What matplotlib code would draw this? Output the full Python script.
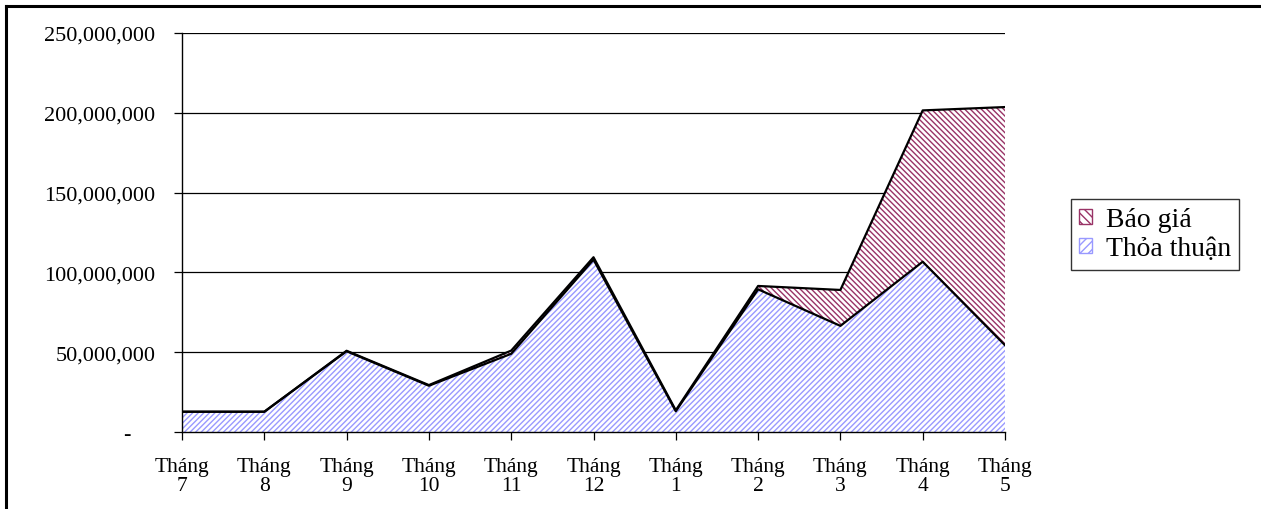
import numpy as np
import matplotlib.pyplot as plt
import matplotlib as mpl
from matplotlib.lines import Line2D
from matplotlib.ticker import FuncFormatter

plt.rcParams['font.family'] = ['Liberation Serif', 'DejaVu Serif']
mpl.rcParams['hatch.linewidth'] = 1.0

months = ['Tháng\n7', 'Tháng\n8', 'Tháng\n9', 'Tháng\n10', 'Tháng\n11', 'Tháng\n12',
          'Tháng\n1', 'Tháng\n2', 'Tháng\n3', 'Tháng\n4', 'Tháng\n5']
thoa_thuan = [12.7e6, 12.7e6, 50.6e6, 29.0e6, 49.0e6, 108.0e6,
              13.0e6, 89.4e6, 66.5e6, 106.7e6, 54.4e6]
bao_gia = [0.0, 0.0, 0.3e6, 0.4e6, 2.0e6, 1.5e6,
           0.6e6, 2.1e6, 22.5e6, 94.8e6, 149.2e6]

x = np.arange(len(months))
total = np.array(thoa_thuan) + np.array(bao_gia)

fig = plt.figure(figsize=(12.61, 5.10), dpi=100)
ax = fig.add_axes([182 / 1261, 1 - 433 / 510, 823 / 1261, 399 / 510])

blue = '#9999ff'
red = '#993366'

ax.fill_between(x, 0, thoa_thuan, facecolor='white', edgecolor=blue,
                hatch='//////', linewidth=0, zorder=2)
ax.fill_between(x, thoa_thuan, total, facecolor='white', edgecolor=red,
                hatch='\\\\\\\\\\\\', linewidth=0, zorder=2)
ax.plot(x, thoa_thuan, color='black', lw=1.6, zorder=3)
ax.plot(x, total, color='black', lw=1.6, zorder=3)

ax.set_xlim(0, len(months) - 1)
ax.set_ylim(0, 250e6)
ax.set_yticks(np.arange(0, 250e6 + 1, 50e6))
ax.yaxis.set_major_formatter(FuncFormatter(lambda v, p: '-' if v == 0 else f'{v:,.0f}'))
ax.grid(axis='y', color='black', lw=0.9, zorder=1)
ax.set_xticks(x)
ax.set_xticklabels(months, fontsize=15.5, linespacing=1.0)
ax.tick_params(axis='y', labelsize=16, length=6, width=0.9, direction='out', pad=13)
ax.tick_params(axis='x', length=6, width=0.9, direction='out', pad=12)
for s in ['left', 'bottom']:
    ax.spines[s].set_linewidth(1.0)
for s in ['top', 'right']:
    ax.spines[s].set_visible(False)

# the zero label sits further left, like an accounting format dash
for lbl in ax.get_yticklabels():
    if lbl.get_text() == '-':
        lbl.set_transform(lbl.get_transform() + mpl.transforms.ScaledTranslation(-25 / 100, 0, fig.dpi_scale_trans))

# top-left frame of the chart object
fig.add_artist(Line2D([6 / 1261, 6 / 1261], [0, 1 - 7 / 510], color='black', lw=2.2))
fig.add_artist(Line2D([6 / 1261, 1], [1 - 7 / 510, 1 - 7 / 510], color='black', lw=2.2))

leg_patch_r = mpl.patches.Patch(facecolor='white', edgecolor=red, hatch='\\\\\\\\', lw=1.0)
leg_patch_b = mpl.patches.Patch(facecolor='white', edgecolor=blue, hatch='////', lw=1.0)
leg = fig.legend([leg_patch_r, leg_patch_b], ['Báo giá', 'Thỏa thuận'],
                 loc='upper left', bbox_to_anchor=(1071 / 1261, 1 - 200 / 510),
                 fontsize=20, frameon=True, fancybox=False, edgecolor='black',
                 handlelength=0.45, handleheight=0.45, handletextpad=0.5,
                 borderpad=0.3, labelspacing=0.15, borderaxespad=0)
leg.get_frame().set_linewidth(1.0)

fig.savefig('out.png', dpi=100)
